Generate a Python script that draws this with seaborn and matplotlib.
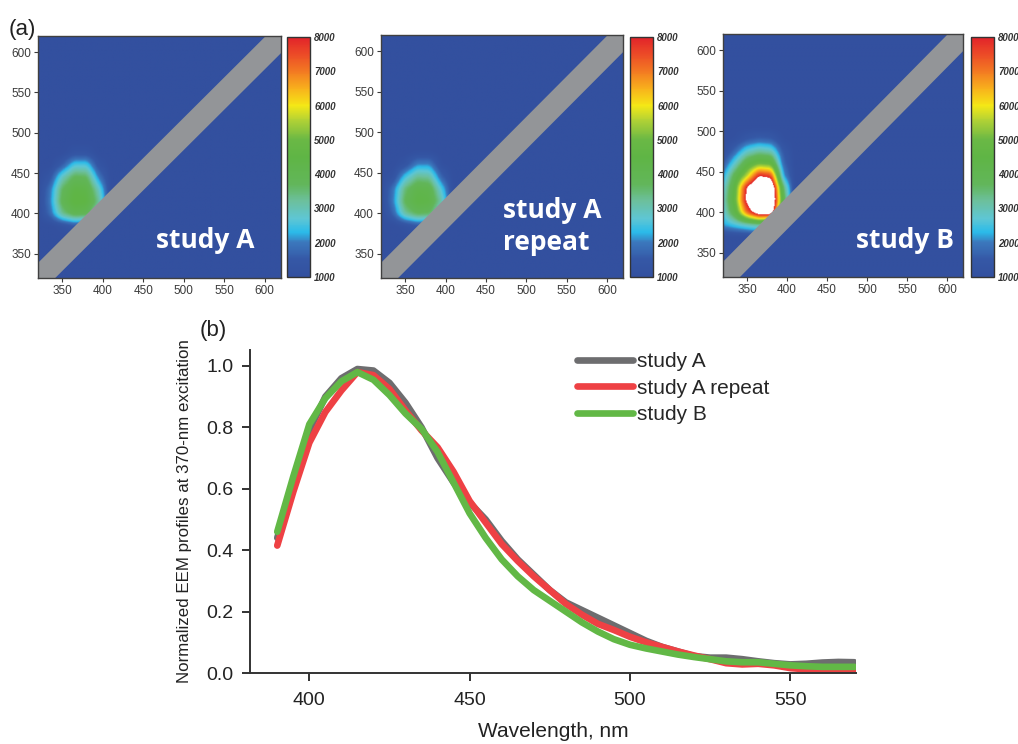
import numpy as np
import pandas as pd
import matplotlib
matplotlib.use("Agg")
import matplotlib.pyplot as plt
from matplotlib.colors import LinearSegmentedColormap, Normalize
from matplotlib.cm import ScalarMappable
import seaborn as sns

# ---------------- data: emission profiles (panel b) ----------------
wavelength = [390, 395, 400, 405, 410, 415, 420, 425, 430, 435, 440, 445, 450,
              455, 460, 465, 470, 475, 480, 485, 490, 495, 500, 505, 510, 515,
              520, 525, 530, 535, 540, 545, 550, 555, 560, 565, 570]
study_a = [0.44, 0.62, 0.79, 0.90, 0.96, 0.99, 0.985, 0.945, 0.88, 0.80, 0.70,
           0.62, 0.555, 0.50, 0.43, 0.37, 0.32, 0.27, 0.23, 0.205, 0.18, 0.155,
           0.13, 0.105, 0.085, 0.07, 0.055, 0.05, 0.05, 0.045, 0.038, 0.032,
           0.028, 0.03, 0.034, 0.036, 0.035]
study_a_repeat = [0.415, 0.59, 0.75, 0.85, 0.92, 0.98, 0.97, 0.925, 0.855, 0.79,
                  0.735, 0.655, 0.56, 0.49, 0.42, 0.365, 0.315, 0.27, 0.225, 0.19,
                  0.16, 0.14, 0.118, 0.10, 0.085, 0.07, 0.057, 0.045, 0.032,
                  0.028, 0.03, 0.025, 0.016, 0.012, 0.01, 0.011, 0.012]
study_b = [0.46, 0.64, 0.81, 0.895, 0.95, 0.98, 0.955, 0.905, 0.845, 0.795, 0.72,
           0.62, 0.52, 0.44, 0.37, 0.315, 0.27, 0.235, 0.20, 0.165, 0.135, 0.11,
           0.092, 0.08, 0.07, 0.06, 0.052, 0.045, 0.038, 0.035, 0.035, 0.03,
           0.025, 0.022, 0.02, 0.02, 0.02]
series_names = ["study A", "study A repeat", "study B"]
series_colors = ["#6d6d6f", "#ee4144", "#62b846"]

# ---------------- data: EEM maps (panel a) ----------------
BACKGROUND = 1000
blob_ex = [320, 335, 350, 365, 380, 395, 410]                      # excitation, nm
blob_em = [370, 385, 400, 415, 430, 445, 460, 475, 490]            # emission, nm
eem_study_a = [
    [1000, 1000, 1000, 1000, 1000, 1000, 1000],
    [1000, 1000, 1200, 1500, 1400, 1000, 1000],
    [1000, 1800, 3300, 4000, 3900, 2600, 1000],
    [1000, 2000, 3900, 4600, 4500, 3300, 1000],
    [1000, 1900, 3700, 4400, 4300, 2900, 1000],
    [1000, 1400, 2900, 3800, 3700, 2000, 1000],
    [1000, 1000, 1600, 2600, 2600, 1300, 1000],
    [1000, 1000, 1000, 1300, 1300, 1000, 1000],
    [1000, 1000, 1000, 1000, 1000, 1000, 1000],
]
eem_study_a_repeat = [
    [1000, 1000, 1000, 1000, 1000, 1000, 1000],
    [1000, 1000, 1200, 1500, 1400, 1000, 1000],
    [1000, 1700, 3200, 3800, 3700, 2400, 1000],
    [1000, 2000, 3800, 4400, 4300, 3100, 1000],
    [1000, 1900, 3500, 4200, 4100, 2600, 1000],
    [1000, 1200, 2500, 3300, 3200, 1700, 1000],
    [1000, 1000, 1300, 2100, 2100, 1100, 1000],
    [1000, 1000, 1000, 1100, 1100, 1000, 1000],
    [1000, 1000, 1000, 1000, 1000, 1000, 1000],
]
eem_study_b = [
    [1000, 1000, 1000, 1100, 1000, 1000, 1000],
    [2200, 2600, 3000, 3300, 2800, 1000, 1000],
    [2600, 4300, 7200, 9000, 9000, 3500, 1000],
    [2800, 4800, 8400, 10000, 10000, 4200, 1000],
    [2600, 4600, 8200, 10000, 9700, 3700, 1000],
    [2100, 4000, 5600, 8000, 7600, 2300, 1000],
    [1500, 2800, 4300, 5000, 4800, 1800, 1000],
    [1000, 1800, 2800, 3200, 3000, 1500, 1000],
    [1000, 1100, 1500, 1700, 1600, 1100, 1000],
]
panel_titles = ["study A", "study A\nrepeat", "study B"]
cbar_ticks = [1000, 2000, 3000, 4000, 5000, 6000, 7000, 8000]
eem_ticks = [350, 400, 450, 500, 550, 600]
SCATTER_HALF_WIDTH = 20

# ---------------- style ----------------
sns.set_style("ticks")
plt.rcParams["font.family"] = ["Liberation Sans", "DejaVu Sans"]

fig = plt.figure(figsize=(10.18, 7.44), dpi=100)
W, H = 1018.0, 744.0


def fax(l, t, r, b):
    return [l / W, 1 - b / H, (r - l) / W, (b - t) / H]


cmap = LinearSegmentedColormap.from_list(
    "eem",
    [(0.0, "#33509f"), (500 / 7000, "#3558a6"), (1000 / 7000, "#3b78bd"),
     (1300 / 7000, "#2bbbe9"), (1700 / 7000, "#5ec6d4"), (2200 / 7000, "#6cc09e"),
     (2700 / 7000, "#62b65a"), (3500 / 7000, "#5fb545"), (4000 / 7000, "#6ab845"),
     (4600 / 7000, "#b5d334"), (5000 / 7000, "#f5e816"), (5500 / 7000, "#f8b11c"),
     (6000 / 7000, "#f37a22"), (6500 / 7000, "#ec4b27"), (1.0, "#e2242a")])
cmap.set_over("white")
cmap.set_under("#33509f")
norm = Normalize(1000, 8000)

panel_boxes = [(38, 36, 281, 278), (381, 35, 623, 278), (723, 34, 963, 277)]
cbar_boxes = [(287, 37, 310, 277), (630, 37, 653, 277), (971, 37, 994, 277)]
text_pos = [(526, 366, "center"), (471, 384, "left"), (548, 365, "center")]

ex_full = np.array(blob_ex + [620], dtype=float)
em_full = np.array([320] + blob_em + [505, 620], dtype=float)
ex_fine = np.arange(320, 621, 1.0)
em_fine = np.arange(320, 621, 1.0)
xs_band = np.array([300.0, 640.0])


def upsample(arr):
    tmp = np.array([np.interp(ex_fine, ex_full, row) for row in arr])
    fine = np.array([np.interp(em_fine, em_full, col) for col in tmp.T]).T
    k = np.ones(7) / 7.0
    pad = 3
    p = np.pad(fine, pad, mode="edge")
    p = np.apply_along_axis(lambda r: np.convolve(r, k, mode="same"), 1, p)
    p = np.apply_along_axis(lambda c: np.convolve(c, k, mode="same"), 0, p)
    return p[pad:-pad, pad:-pad]


for i, data in enumerate([eem_study_a, eem_study_a_repeat, eem_study_b]):
    arr = np.array(data, dtype=float)
    arr = np.pad(arr, ((1, 2), (0, 1)), constant_values=BACKGROUND)
    fine = upsample(arr)
    ax = fig.add_axes(fax(*panel_boxes[i]))
    ax.imshow(fine, origin="lower", extent=(319.5, 620.5, 319.5, 620.5),
              cmap=cmap, norm=norm, interpolation="bilinear", aspect="auto")
    ax.fill_between(xs_band, xs_band - SCATTER_HALF_WIDTH,
                    xs_band + SCATTER_HALF_WIDTH, color="#939598", lw=0, zorder=3)
    ax.set_xlim(320, 620)
    ax.set_ylim(320, 620)
    ax.set_xticks(eem_ticks)
    ax.set_yticks(eem_ticks)
    ax.tick_params(labelsize=8.5, colors="#3a3a3a", length=3, width=0.8, pad=2)
    for s in ax.spines.values():
        s.set_color("#404040")
        s.set_linewidth(1.0)
        s.set_zorder(5)
    tx, ty, ha = text_pos[i]
    ax.text(tx, ty, panel_titles[i], color="white", fontsize=19,
            fontweight="bold", family=["Open Sans", "DejaVu Sans"],
            ha=ha, va="center", linespacing=1.25, zorder=6)

    cax = fig.add_axes(fax(*cbar_boxes[i]))
    cb = fig.colorbar(ScalarMappable(norm=norm, cmap=cmap), cax=cax,
                      ticks=cbar_ticks)
    cb.outline.set_edgecolor("#333333")
    cb.outline.set_linewidth(1.0)
    cax.tick_params(length=0, pad=3, labelsize=7, colors="#333333")
    for lab in cax.get_yticklabels():
        lab.set_fontweight("bold")
        lab.set_fontstyle("italic")

fig.text(9 / W, 1 - 35 / H, "(a)", fontsize=16, color="#222222")
fig.text(200 / W, 1 - 336 / H, "(b)", fontsize=16, color="#222222")

# ---------------- panel b ----------------
rows = []
for name, vals in zip(series_names, [study_a, study_a_repeat, study_b]):
    for w, v in zip(wavelength, vals):
        rows.append({"wavelength": w, "value": v, "series": name})
df = pd.DataFrame(rows)

axb = fig.add_axes(fax(250, 350, 856, 673))
sns.lineplot(data=df, x="wavelength", y="value", hue="series",
             hue_order=series_names, palette=dict(zip(series_names, series_colors)),
             linewidth=4.8, solid_capstyle="round", solid_joinstyle="round",
             ax=axb)
axb.set_xlim(381.5, 570.5)
axb.set_ylim(0, 1.052)
axb.set_xticks([400, 450, 500, 550])
axb.set_yticks([0.0, 0.2, 0.4, 0.6, 0.8, 1.0])
axb.set_yticklabels(["0.0", "0.2", "0.4", "0.6", "0.8", "1.0"])
axb.tick_params(labelsize=14, colors="#222222", length=6, width=1.3, pad=6)
axb.tick_params(axis="x", pad=8)
sns.despine(ax=axb)
for s in ("left", "bottom"):
    axb.spines[s].set_linewidth(1.4)
    axb.spines[s].set_color("#333333")
axb.set_xlabel("Wavelength, nm", fontsize=15, color="#222222", labelpad=9)
axb.set_ylabel("Normalized EEM profiles at 370-nm excitation", fontsize=12.2,
               color="#222222", labelpad=10)
handles, labels = axb.get_legend_handles_labels()
axb.legend(handles, labels, loc="upper left",
           bbox_to_anchor=(577 / W, 1 - 352 / H), bbox_transform=fig.transFigure,
           frameon=False, borderaxespad=0, borderpad=0, fontsize=15,
           handlelength=2.7, handletextpad=0.2, labelspacing=0.36)

fig.savefig("out.png", dpi=100)
